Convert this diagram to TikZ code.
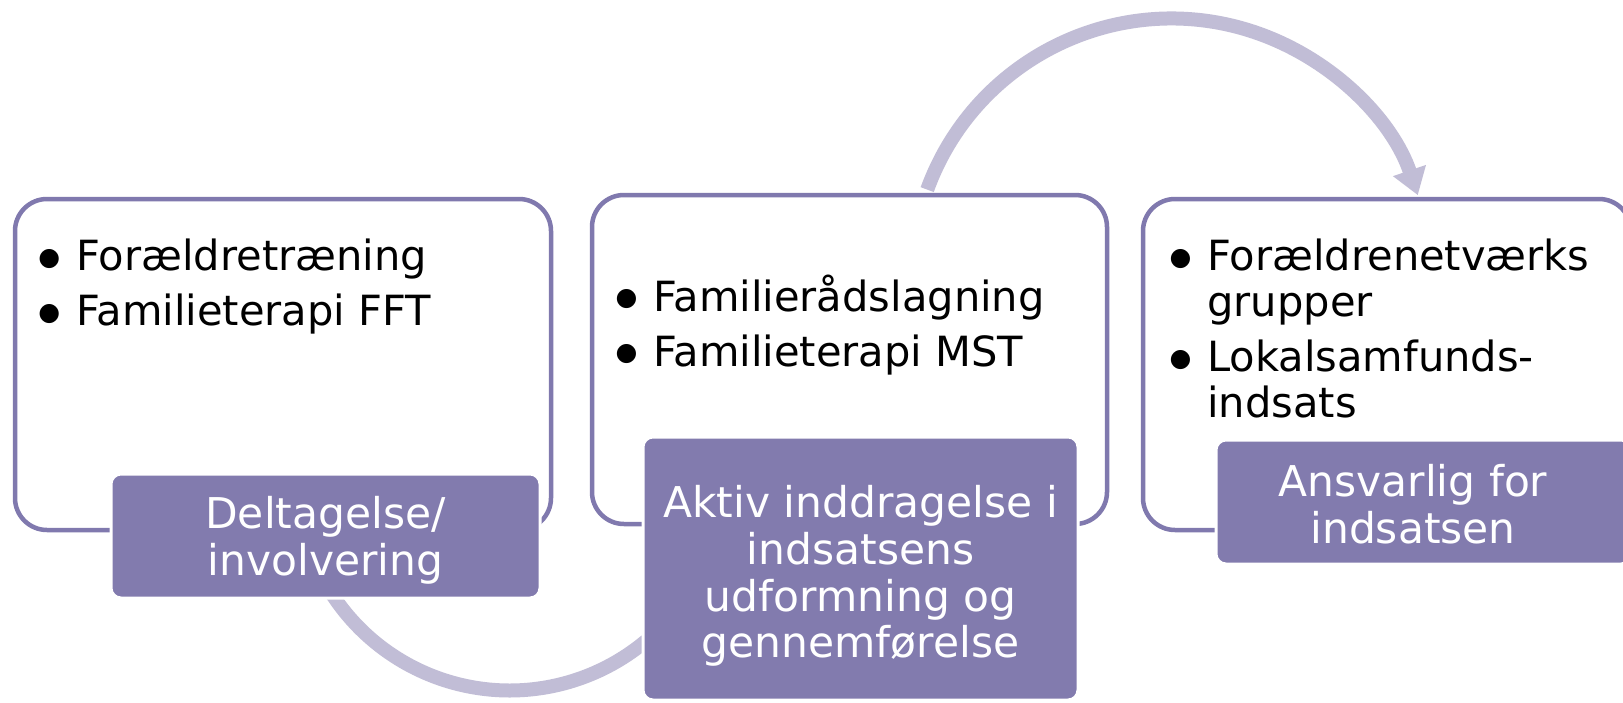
\documentclass[tikz,border=0pt]{standalone}
\usepackage{fontspec}
\setmainfont{DejaVu Sans}
\usetikzlibrary{arrows.meta}
\definecolor{boxline}{HTML}{8079AE}
\definecolor{labfill}{HTML}{827BAE}
\definecolor{arcc}{HTML}{C1BDD6}
\newcommand\bul{\makebox[0pt]{\raisebox{2.8pt}{\fontsize{12.5}{12.5}\selectfont ●}}\hspace{13.5pt}}
\newcommand\cont{\hspace*{13.5pt}}
\begin{document}
\begin{tikzpicture}[x=0.5pt,y=-0.5pt,
 outerbox/.style={draw=boxline, line width=2.25pt, fill=white, rounded corners=16pt, inner sep=0pt},
 labelbox/.style={draw=white, line width=1.5pt, fill=labfill, rounded corners=5pt, inner sep=0pt},
 itemtext/.style={anchor=base west, inner sep=0pt, font=\fontsize{20.8}{23}\selectfont, text=black},
 labeltext/.style={inner sep=0pt, align=center, text=white, font=\fontsize{21.2}{23.4}\selectfont},
 flow/.style={draw=arcc, line width=7pt},
]
\useasboundingbox[fill=white] (0,0) rectangle (1623,702);

% bottom arc (behind the labels)
\coordinate (a2s) at (326.1,584.5);
\draw[flow] (a2s) arc[start angle=150, end angle=50, radius=212];

% box 1
\node[outerbox, minimum width=268pt, minimum height=165.5pt] (b1) at (283,364.5) {};
\node[itemtext] (t1) at (49,270.7) {\begin{tabular}[t]{@{}l@{}}\bul Forældretræning\\[4.5pt] \bul Familieterapi FFT\end{tabular}};
\node[labelbox, minimum width=214.5pt, minimum height=62pt] (l1) at (325.5,536) {};
\node[labeltext] (l1t) at (325.5,540) {Deltagelse/\\involvering};

% box 2
\node[outerbox, minimum width=257.5pt, minimum height=164.5pt] (b2) at (849.5,359.5) {};
\node[itemtext] (t2) at (626,311) {\begin{tabular}[t]{@{}l@{}}\bul Familierådslagning\\[4.5pt] \bul Familieterapi MST\end{tabular}};
\node[labelbox, minimum width=217.5pt, minimum height=131.5pt] (l2) at (860.5,568.5) {};
\node[labeltext] (l2t) at (860.5,576) {Aktiv inddragelse i\\indsatsens\\udformning og\\gennemførelse};

% box 3
\node[outerbox, minimum width=244pt, minimum height=165.5pt] (b3) at (1387,364.5) {};
\node[itemtext] (t3) at (1180,270.7) {\begin{tabular}[t]{@{}l@{}}\bul Forældrenetværks\\ \cont grupper\\[4.5pt] \bul Lokalsamfunds-\\ \cont indsats\end{tabular}};
\node[labelbox, minimum width=207.5pt, minimum height=62pt] (l3) at (1423.5,502) {};
\node[labeltext] (l3t) at (1413,504) {Ansvarlig for\\indsatsen};

% top arc with arrow
\coordinate (a1s) at (927.2,189.6);
\draw[flow, -{Triangle[width=16.5pt,length=13pt]}] (a1s) arc[start angle=200, end angle=341.3, radius=260];
\end{tikzpicture}
\end{document}
